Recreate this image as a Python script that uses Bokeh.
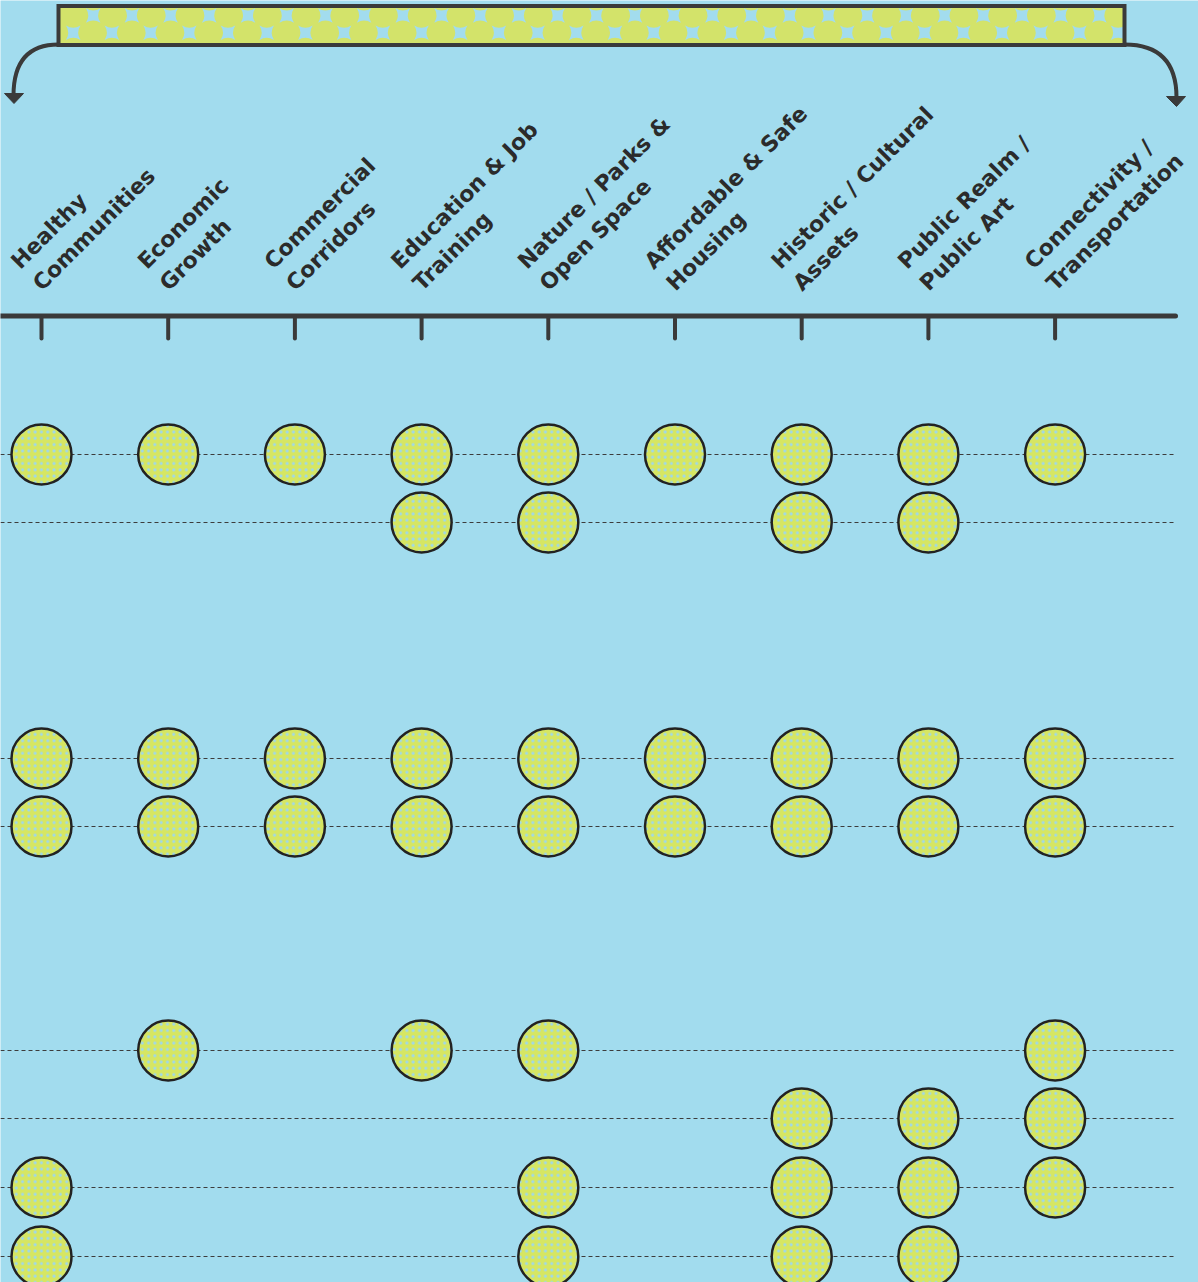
import re
import numpy as np
from bokeh.plotting import figure
from bokeh.models import Range1d
from bokeh.embed import file_html
from bokeh.resources import INLINE
from bokeh.core.properties import value

# ---------------- data ----------------
categories = [
    "Healthy\nCommunities",
    "Economic\nGrowth",
    "Commercial\nCorridors",
    "Education & Job\nTraining",
    "Nature / Parks &\nOpen Space",
    "Affordable & Safe\nHousing",
    "Historic / Cultural\nAssets",
    "Public Realm /\nPublic Art",
    "Connectivity /\nTransportation",
]

# vertical position of each item row (page units)
row_positions = [454, 522, 758, 826, 1050, 1118, 1187, 1256]

# 1 = item relates to the category (columns follow `categories`)
row_1 = [1, 1, 1, 1, 1, 1, 1, 1, 1]
row_2 = [0, 0, 0, 1, 1, 0, 1, 1, 0]
row_3 = [1, 1, 1, 1, 1, 1, 1, 1, 1]
row_4 = [1, 1, 1, 1, 1, 1, 1, 1, 1]
row_5 = [0, 1, 0, 1, 1, 0, 0, 0, 1]
row_6 = [0, 0, 0, 0, 0, 0, 1, 1, 1]
row_7 = [1, 0, 0, 0, 1, 0, 1, 1, 1]
row_8 = [1, 0, 0, 0, 1, 0, 1, 1, 0]
rows = [row_1, row_2, row_3, row_4, row_5, row_6, row_7, row_8]

# ---------------- layout / style ----------------
BG = "#a2dcee"
DARK = "#3a3a3a"
GREEN = "#d3e36a"
CIRCLE = "#d6e662"
DOTS = "#9fd8ea"
W, H = 1198, 1282
COL0 = 41.0      # page x of first column
STEP = 126.7     # page px between columns


def px(xpage):
    return (xpage - COL0) / STEP


idx = list(range(len(categories)))

p = figure(
    width=W, height=H,
    x_range=Range1d(px(0), px(W)),
    y_range=Range1d(H, 0),
    x_axis_type=None, y_axis_type=None,
    output_backend="svg", toolbar_location=None,
    min_border=0, background_fill_color=BG, border_fill_color=BG,
    outline_line_color=None,
)
p.grid.visible = False

# dashed row guides
p.segment(x0=[px(0)] * len(row_positions), y0=row_positions,
          x1=[px(1175)] * len(row_positions), y1=row_positions,
          line_color="#3c3c3c", line_width=1.1, line_dash="4 3")

# circles
cx, cy = [], []
for r, y in zip(rows, row_positions):
    for i, v in enumerate(r):
        if v:
            cx.append(i)
            cy.append(y)
p.scatter(cx, cy, marker="circle", size=60, fill_color=CIRCLE,
          line_color="#222222", line_width=2.5,
          hatch_pattern="dot", hatch_color=DOTS, hatch_scale=6.3)

# category axis line and ticks
p.segment(x0=[px(0)], y0=[315.5], x1=[px(1175)], y1=[315.5],
          line_color=DARK, line_width=5, line_cap="round")
p.segment(x0=idx, y0=[318] * len(idx), x1=idx, y1=[338] * len(idx),
          line_color=DARK, line_width=4, line_cap="round")

# category labels
p.text(x=idx, y=[295] * len(idx), text=categories, angle=np.pi / 4,
       x_offset=4, text_font=value("DejaVu Sans"), text_font_style="bold",
       text_font_size="22px", text_color="#2b2b2b", text_align="left",
       text_baseline="bottom", text_line_height=1.23)

# top bracket bar: green fill, lattice of light-blue pinched squares, outline
p.rect(x=[px(591)], y=[25], width=[1066 / STEP], height=[39],
       fill_color=GREEN, line_color=None)
tex_a = np.arange(92.7, 1121, 38.7)
tex_b = np.arange(72.7, 1121, 38.7)
p.scatter(x=[px(v) for v in np.concatenate([tex_a, tex_b])],
          y=[15.0] * len(tex_a) + [32.3] * len(tex_b),
          marker="square_pin", size=14.5, fill_color=BG, line_color=None)
p.rect(x=[px(591)], y=[25], width=[1066 / STEP], height=[39],
       fill_color=None, line_color=DARK, line_width=4, line_join="miter")

# curved arrows
p.quadratic(x0=[px(58), px(1124)], y0=[44, 44],
            x1=[px(13), px(1176)], y1=[95, 97],
            cx=[px(13), px(1176)], cy=[44, 44],
            line_color=DARK, line_width=4)
p.patches(xs=[[px(4), px(23), px(13.5)], [px(1166), px(1185), px(1176)]],
          ys=[[93, 93, 103], [96, 96, 106]],
          fill_color=DARK, line_color=DARK, line_width=1)

html = file_html(p, INLINE, title="Categories")
style = f'<body style="margin:0;background-color:{BG};overflow:hidden;">'
if "<body>" in html:
    html = html.replace("<body>", style, 1)
else:
    html = re.sub(r"<body[^>]*>", style, html, count=1)
open("out.html", "w").write(html)
